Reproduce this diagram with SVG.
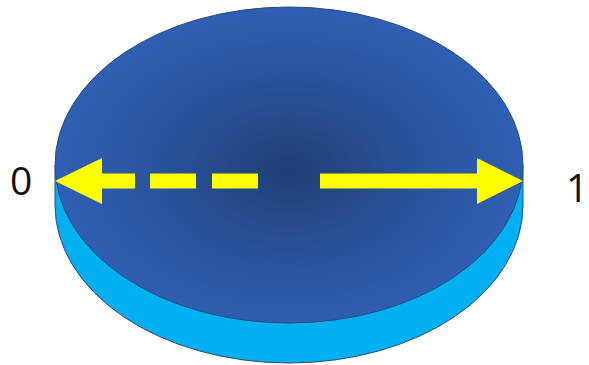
<svg xmlns="http://www.w3.org/2000/svg" width="589" height="365" viewBox="0 0 589 365">
<defs>
<radialGradient id="g" cx="289" cy="170" r="240" gradientUnits="userSpaceOnUse" gradientTransform="translate(289 170) scale(1 0.7) translate(-289 -170)">
<stop offset="0" stop-color="#203f76"/>
<stop offset="0.6" stop-color="#2b55a0"/>
<stop offset="1" stop-color="#2f60b4"/>
</radialGradient>
<style>
.lbl{font-family:"Open Sans","Liberation Sans",sans-serif;font-size:39px;fill:#111}
.yel{fill:#ffff00}
</style>
</defs>
<g id="disc">
<path d="M55,165 L55,205 A234,158 0 0 0 523,205 L523,165 Z" fill="#00b0f0" stroke="#2a4a80" stroke-width="1"/>
<ellipse cx="289" cy="165" rx="234" ry="158" fill="url(#g)" stroke="#2a4a80" stroke-width="1"/>
</g>
<g id="connectors">
<polygon class="yel" points="55,181 102,158 102,173.5 135,173.5 135,188.5 102,188.5 102,204"/>
<rect class="yel" x="150" y="173.5" width="46" height="15"/>
<rect class="yel" x="212" y="173.5" width="46" height="15"/>
<polygon class="yel" points="523,181 477,158 477,173.5 320,173.5 320,188.5 477,188.5 477,204"/>
</g>
<g id="label0"><text class="lbl" x="10" y="195">0</text></g>
<g id="label1"><text class="lbl" x="566" y="202">1</text></g>
</svg>
